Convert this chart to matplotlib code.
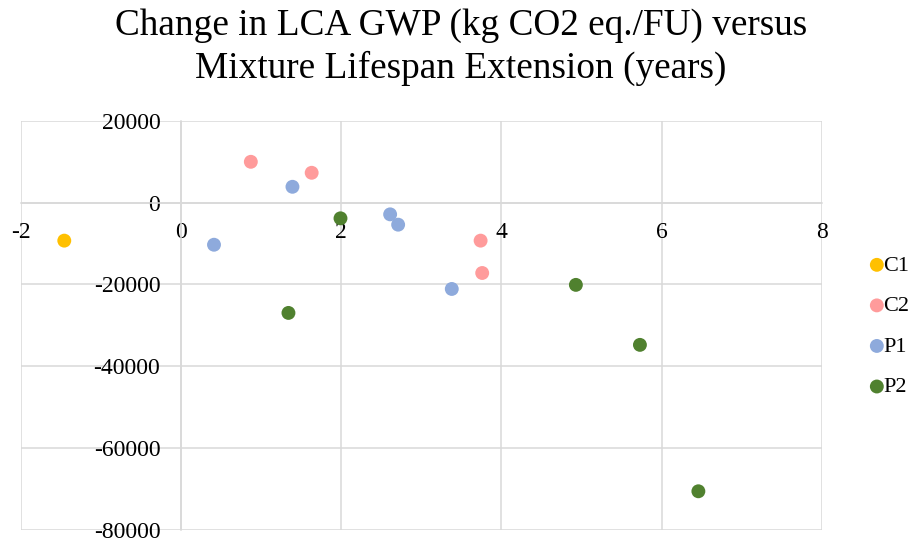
import matplotlib

matplotlib.use("Agg")

import matplotlib.pyplot as plt

# Datos (anos de extension vs cambio GWP)
c1_x = [-1.46]
c1_y = [-9300]

c2_x = [0.87, 1.63, 3.74, 3.76]
c2_y = [9950, 7270, -9300, -17200]

p1_x = [0.41, 1.39, 2.61, 2.71, 3.38]
p1_y = [-10300, 3850, -2880, -5400, -21100]

p2_x = [1.99, 1.34, 4.93, 5.73, 6.46]
p2_y = [-3850, -26950, -20100, -34750, -70500]

x_ticks = [-2, 0, 2, 4, 6, 8]
y_ticks = [20000, 0, -20000, -40000, -60000, -80000]

title_lines = [
    "Change in LCA GWP (kg CO2 eq./FU) versus",
    "Mixture Lifespan Extension (years)",
]

plt.rcParams["font.family"] = ["Liberation Serif", "DejaVu Serif"]

fig = plt.figure(figsize=(9.15, 5.41), dpi=100)
ax = fig.add_axes([0.023, 0.020, 0.875, 0.757])

series = [
    ("C1", c1_x, c1_y, "#ffc000"),
    ("C2", c2_x, c2_y, "#ff9b9b"),
    ("P1", p1_x, p1_y, "#8eaadc"),
    ("P2", p2_x, p2_y, "#50812f"),
]
for name, xs, ys, color in series:
    ax.scatter(xs, ys, s=100, color=color, edgecolors="none", label=name, zorder=3)

ax.set_xlim(-2, 8)
ax.set_ylim(-80000, 20000)
ax.set_xticks(x_ticks)
ax.set_yticks(y_ticks)
ax.set_xticklabels([str(v) for v in x_ticks])
ax.set_yticklabels([str(v) for v in y_ticks])
ax.grid(True, color="#d9d9d9", linewidth=1.1)
ax.set_axisbelow(True)

for side in ["top", "right"]:
    ax.spines[side].set_visible(False)
ax.spines["left"].set_position(("data", 0))
ax.spines["bottom"].set_position(("data", 0))
for side in ["left", "bottom"]:
    ax.spines[side].set_color("#d9d9d9")
    ax.spines[side].set_linewidth(1.1)

ax.tick_params(axis="x", length=0, pad=14, labelsize=17)
ax.tick_params(axis="y", length=0, pad=15, labelsize=17)
for lbl in ax.get_xticklabels() + ax.get_yticklabels():
    lbl.set_clip_on(False)

# titulo en dos lineas, posicionado por linea base
fig.text(0.504, 1 - 35 / 541, title_lines[0], fontsize=26.8, ha="center", va="baseline")
fig.text(0.504, 1 - 78 / 541, title_lines[1], fontsize=26.8, ha="center", va="baseline")

ax.legend(
    loc="center left",
    bbox_to_anchor=(0.951, 0.397),
    bbox_transform=fig.transFigure,
    frameon=False,
    fontsize=16,
    borderpad=0,
    borderaxespad=0,
    handletextpad=0.0,
    labelspacing=0.9,
    handlelength=0.6,
)

fig.savefig("out.png", dpi=100)
